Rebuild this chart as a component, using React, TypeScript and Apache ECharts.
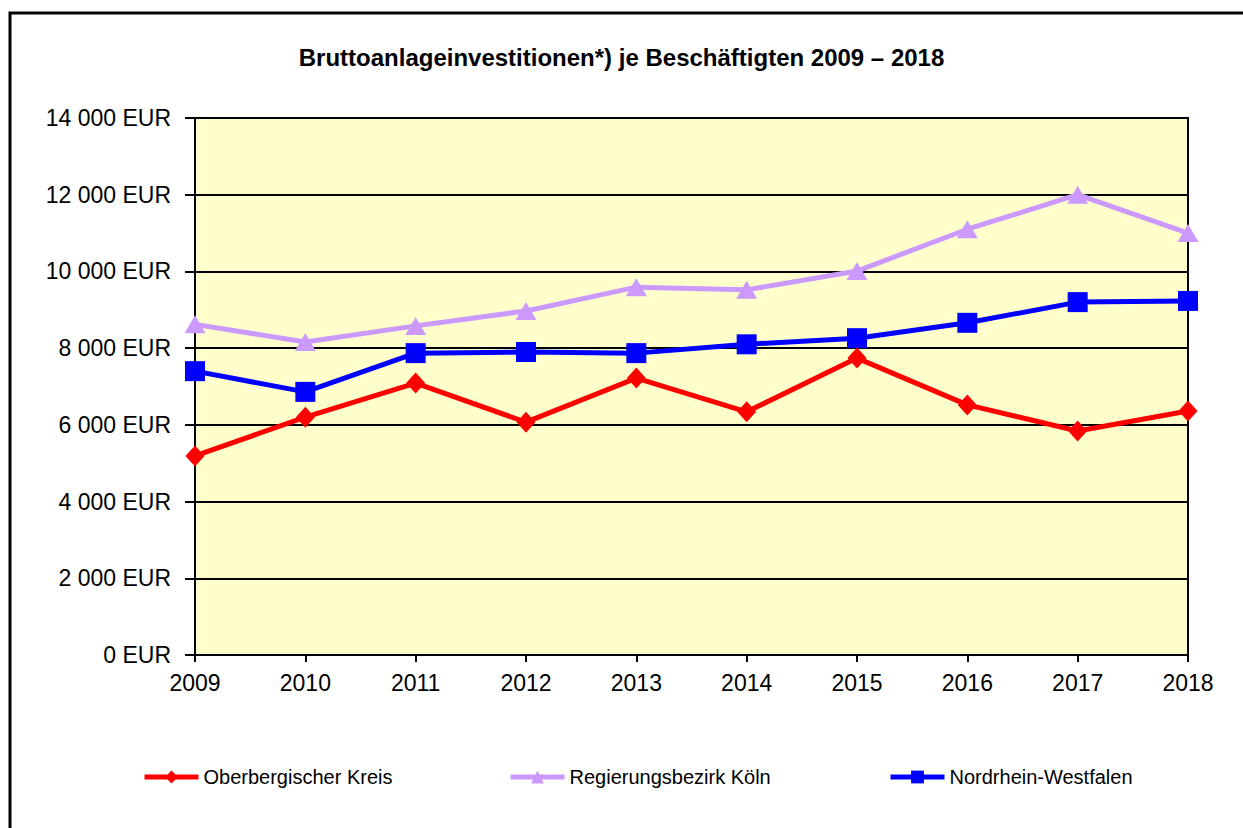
import React, { useEffect, useRef } from "react";
import * as echarts from "echarts";

const years = ["2009", "2010", "2011", "2012", "2013", "2014", "2015", "2016", "2017", "2018"];
const oberbergisch = [5190, 6200, 7090, 6070, 7220, 6340, 7740, 6520, 5840, 6360];
const koeln = [8620, 8160, 8580, 8970, 9590, 9520, 10010, 11100, 12000, 11000];
const nrw = [7400, 6860, 7870, 7900, 7870, 8100, 8260, 8660, 9200, 9230];
const seriesNames = ["Oberbergischer Kreis", "Regierungsbezirk Köln", "Nordrhein-Westfalen"];
const titleText = "Bruttoanlageinvestitionen*) je Beschäftigten 2009 – 2018";

const FONT = "'Liberation Sans', Arial, sans-serif";

function fmt(v: number): string {
  const s = String(Math.round(v));
  return s.replace(/\B(?=(\d{3})+(?!\d))/g, " ") + " EUR";
}

export default function App() {
  const ref = useRef<HTMLDivElement>(null);
  useEffect(() => {
    if (!ref.current) return;
    const chart = echarts.init(ref.current, undefined, { renderer: "svg" });
    const legendBase = {
      top: 767,
      padding: 0,
      itemWidth: 54,
      itemHeight: 16,
      itemGap: 5,
      lineStyle: { width: 5 },
      textStyle: { fontFamily: FONT, fontSize: 20, color: "#000" },
    };
    chart.setOption({
      animation: false,
      backgroundColor: "#fff",
      textStyle: { fontFamily: FONT },
      title: {
        text: titleText,
        left: "center",
        top: 40,
        textStyle: { fontFamily: FONT, fontSize: 24, fontWeight: "bold", color: "#000" },
      },
      graphic: [
        {
          type: "rect",
          shape: { x: 10, y: 13, width: 1400, height: 1000 },
          style: { fill: "none", stroke: "#000", lineWidth: 3 },
          silent: true,
        },
      ],
      legend: [
        { ...legendBase, left: 142, data: [seriesNames[0]] },
        { ...legendBase, left: 508, data: [seriesNames[1]] },
        { ...legendBase, left: 888, data: [seriesNames[2]] },
      ],
      grid: {
        left: 195,
        right: 55,
        top: 118,
        bottom: 173,
        show: true,
        backgroundColor: "#FFFFCC",
        borderColor: "#000",
        borderWidth: 2,
      },
      xAxis: {
        type: "category",
        data: years,
        boundaryGap: false,
        axisLine: { lineStyle: { color: "#000", width: 2 } },
        axisTick: { show: true, length: 7, lineStyle: { color: "#000", width: 2 } },
        axisLabel: { fontFamily: FONT, fontSize: 23, color: "#000", margin: 16 },
      },
      yAxis: {
        type: "value",
        min: 0,
        max: 14000,
        interval: 2000,
        axisLine: { show: true, lineStyle: { color: "#000", width: 2 } },
        axisTick: { show: true, length: 10, lineStyle: { color: "#000", width: 2 } },
        axisLabel: { fontFamily: FONT, fontSize: 23, color: "#000", margin: 24, formatter: fmt },
        splitLine: { show: true, lineStyle: { color: "#000", width: 2 } },
      },
      series: [
        {
          name: seriesNames[0],
          type: "line",
          data: oberbergisch,
          symbol: "diamond",
          symbolSize: [19, 21],
          lineStyle: { color: "#FF0000", width: 5 },
          itemStyle: { color: "#FF0000" },
          z: 4,
        },
        {
          name: seriesNames[1],
          type: "line",
          data: koeln,
          symbol: "triangle",
          symbolSize: [21, 18],
          lineStyle: { color: "#CC99FF", width: 5 },
          itemStyle: { color: "#CC99FF" },
          z: 3,
        },
        {
          name: seriesNames[2],
          type: "line",
          data: nrw,
          symbol: "rect",
          symbolSize: 20,
          lineStyle: { color: "#0000FF", width: 5 },
          itemStyle: { color: "#0000FF" },
          z: 3,
        },
      ],
    });
    return () => chart.dispose();
  }, []);
  return (
    <div
      ref={ref}
      style={{ position: "absolute", left: 0, top: 0, width: 1243, height: 828 }}
    />
  );
}
